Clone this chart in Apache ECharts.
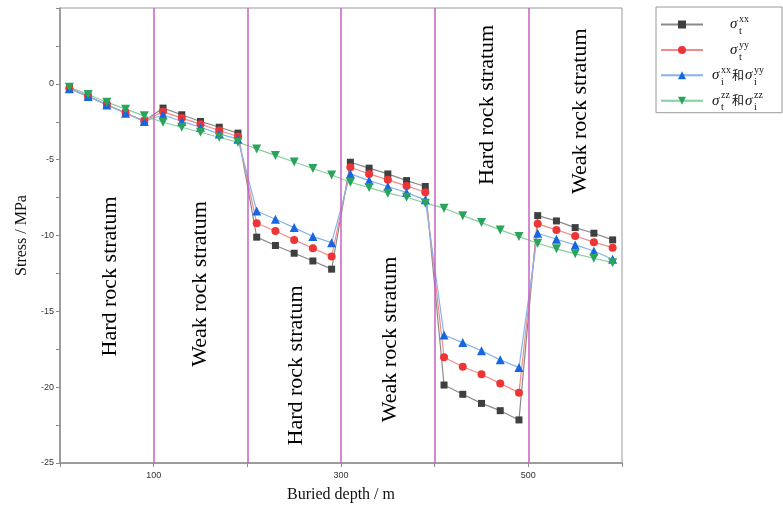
<!DOCTYPE html>
<html><head><meta charset="utf-8">
<script src="https://cdn.jsdelivr.net/npm/echarts@6/dist/echarts.min.js"></script>
<style>html,body{margin:0;padding:0;background:#fff}#c{width:783px;height:505px}</style>
</head><body><div id="c"></div>
<script>
// ---- data ----
const depth = [10,30,50,70,90, 110,130,150,170,190, 210,230,250,270,290, 310,330,350,370,390, 410,430,450,470,490, 510,530,550,570,590];
const sigmaXXt = [-0.30,-0.82,-1.37,-1.92,-2.45, -1.60,-2.04,-2.48,-2.86,-3.25, -10.11,-10.66,-11.17,-11.68,-12.22, -5.17,-5.56,-5.94,-6.38,-6.77, -19.86,-20.47,-21.07,-21.55,-22.16, -8.69,-9.04,-9.48,-9.85,-10.29];
const sigmaYYt = [-0.31,-0.83,-1.38,-1.93,-2.46, -1.83,-2.26,-2.66,-3.08,-3.47, -9.19,-9.70,-10.29,-10.84,-11.39, -5.50,-5.94,-6.33,-6.73,-7.15, -18.03,-18.65,-19.15,-19.75,-20.36, -9.23,-9.63,-10.03,-10.44,-10.80];
const sigmaXXYYi = [-0.33,-0.84,-1.39,-1.94,-2.48, -2.04,-2.48,-2.86,-3.30,-3.65, -8.38,-8.93,-9.48,-10.07,-10.47, -5.94,-6.38,-6.77,-7.17,-7.65, -16.56,-17.06,-17.60,-18.20,-18.71, -9.85,-10.25,-10.62,-11.02,-11.57];
const sigmaZZ = [-0.22,-0.70,-1.21,-1.67,-2.11, -2.53,-2.86,-3.19,-3.52,-3.85, -4.29,-4.72,-5.15,-5.58,-6.01, -6.49,-6.84,-7.21,-7.48,-7.87, -8.20,-8.69,-9.15,-9.63,-10.07, -10.51,-10.88,-11.21,-11.50,-11.79];
const strataBounds = [100,200,300,400,500];
const xTickLabels = [100,300,500];
const yTickLabels = [0,-5,-10,-15,-20,-25];
const strataNames = ['Hard rock stratum','Weak rock stratum','Hard rock stratum','Weak rock stratum','Hard rock stratum','Weak rock stratum'];
const seriesNames = ['sxx_t','syy_t','sxxyy_i','szz_ti'];

// ---- chart ----
const chart = echarts.init(document.getElementById('c'), null, {renderer:'canvas'});
const serif = '"Liberation Serif","Times New Roman",serif';
const pair = (arr) => depth.map((d,i)=>[d, arr[i]]);

const legendText = {
  sxx_t:   '{e| }\n{l22| }{s9| }{sup|xx}\n{l22| }{sig|σ}\n{l22| }{s9| }{sub|t}',
  syy_t:   '{e| }\n{l22| }{s9| }{sup|yy}\n{l22| }{sig|σ}\n{l22| }{s9| }{sub|t}',
  sxxyy_i: '{e| }\n{l4| }{s9| }{sup|xx}{s13| }{s9| }{sup|yy}\n{l4| }{sig|σ}{s11| }{han|和}{sig|σ}\n{l4| }{s9| }{sub|i}{s13| }{s9| }{sub|i}',
  szz_ti:  '{e| }\n{l4| }{s9| }{sup|zz}{s13| }{s9| }{sup|zz}\n{l4| }{sig|σ}{s11| }{han|和}{sig|σ}\n{l4| }{s9| }{sub|t}{s13| }{s9| }{sub|i}'
};
const sp = (w)=>({width:w, fontSize:1, lineHeight:1});

function mk(name, data, symbol, size, mColor, lColor, rot){
  return {
    name, type:'line', data: pair(data), symbol, symbolSize:size, symbolRotate: rot||0,
    itemStyle:{color:mColor}, lineStyle:{color:lColor, width:1.2},
    emphasis:{disabled:true}, animation:false
  };
}

const series = [
  mk(seriesNames[0], sigmaXXt, 'rect', 7, '#3f3f3f', '#8a8a8a'),
  mk(seriesNames[1], sigmaYYt, 'circle', 8, '#ee3535', '#f08c8c'),
  mk(seriesNames[2], sigmaXXYYi, 'triangle', 9, '#1766e0', '#86b3ee'),
  mk(seriesNames[3], sigmaZZ, 'triangle', 9, '#2aa35d', '#86cf9f', 180)
];
series.push({
  type:'line', data:[], silent:true, z:1,
  markLine:{symbol:'none', silent:true, animation:false, label:{show:false},
    lineStyle:{color:'#c862c4', width:1.5, type:'solid'},
    emphasis:{disabled:true},
    data: strataBounds.map(v=>({xAxis:v}))}
});

chart.setOption({
  animation:false,
  backgroundColor:'#fff',
  grid:{left:60, right:161, top:8, bottom:42, containLabel:false, outerBoundsMode:'none',
    show:true, borderColor:'#9a9a9a', borderWidth:1, backgroundColor:'transparent'},
  xAxis:{
    type:'value', min:0, max:600, interval:100,
    name:'Buried depth / m', nameLocation:'middle', nameGap:24,
    nameTextStyle:{fontFamily:serif, fontSize:16, color:'#111'},
    axisLine:{show:true, onZero:false, lineStyle:{color:'#8c8c8c', width:1.5}},
    axisTick:{show:true, length:4, lineStyle:{color:'#8c8c8c', width:1}},
    axisLabel:{fontSize:9, color:'#333', margin:8, fontFamily:'"Liberation Sans",Arial,sans-serif',
      formatter:(v)=> xTickLabels.includes(v) ? String(v) : ''},
    splitLine:{show:false}
  },
  yAxis:{
    type:'value', min:-25, max:5, interval:2.5,
    name:'Stress / MPa', nameLocation:'middle', nameGap:29, nameRotate:90,
    nameTextStyle:{fontFamily:serif, fontSize:16, color:'#111'},
    axisLine:{show:true, onZero:false, lineStyle:{color:'#8c8c8c', width:1.5}},
    axisTick:{show:true, length:4, lineStyle:{color:'#8c8c8c', width:1}},
    axisLabel:{fontSize:9, color:'#333', margin:6, fontFamily:'"Liberation Sans",Arial,sans-serif',
      formatter:(v)=> yTickLabels.includes(v) ? String(v) : ''},
    splitLine:{show:false}
  },
  legend:{
    orient:'vertical', left:656, top:7,
    padding:[7,17,0,4], itemGap:2.9, itemWidth:42, itemHeight:10,
    borderColor:'#9a9a9a', borderWidth:1, backgroundColor:'#fff',
    data: seriesNames,
    formatter:(n)=>legendText[n],
    textStyle:{color:'#111', rich:{
      e:{fontSize:1, lineHeight:4},
      sup:{fontFamily:serif, fontSize:10, lineHeight:6, width:11, color:'#111'},
      sub:{fontFamily:serif, fontSize:10, lineHeight:10, width:11, color:'#111'},
      sig:{fontFamily:serif, fontStyle:'italic', fontSize:15, lineHeight:4, width:9, color:'#111'},
      han:{fontFamily:'"Noto Sans CJK SC",sans-serif', fontSize:12, lineHeight:4, width:13, color:'#111'},
      s9:sp(9), s11:sp(11), s13:sp(13), l4:sp(4), l22:sp(22)
    }}
  },
  series
});

// rotated stratum annotations placed through the axis scales
const annotAt = [[54,-12.7],[150,-13.2],[252,-18.57],[353,-16.85],[456,-1.39],[555,-1.81]];
const graphics = strataNames.map((t,i)=>{
  const p = chart.convertToPixel({gridIndex:0}, annotAt[i]);
  return {type:'text', x:p[0], y:p[1], rotation:Math.PI/2, silent:true, z:50,
    style:{text:t, fontFamily:serif, fontSize:22, fill:'#000', align:'center', verticalAlign:'middle'}};
});
chart.setOption({graphic:graphics});
</script>
</body></html>
